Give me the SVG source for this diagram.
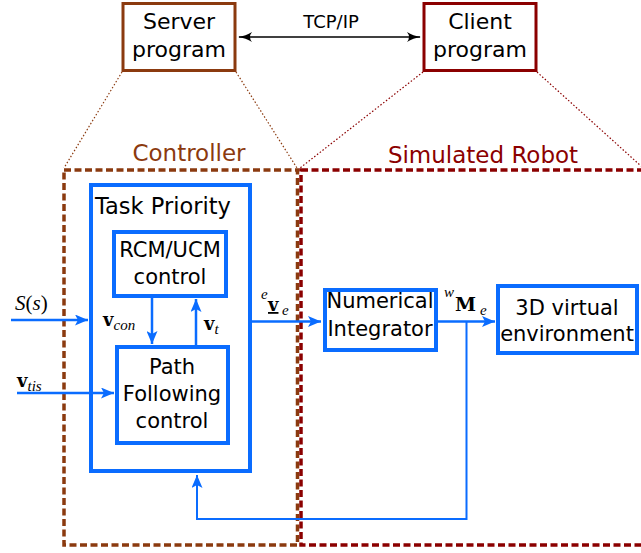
<svg xmlns="http://www.w3.org/2000/svg" width="641" height="553" viewBox="0 0 641 553">
<defs>
<style>
.t{font-family:"DejaVu Sans",Verdana,sans-serif;font-size:21px;fill:#000;text-anchor:middle}
.m{font-family:"Liberation Serif","DejaVu Serif",serif;font-size:20px;fill:#000}
.b{font-family:"DejaVu Serif","Liberation Serif",serif;font-weight:bold;font-style:normal;font-size:18px}
.i{font-style:italic}
.s{font-style:italic;font-size:15px}
.box{fill:#fff;stroke:#0a6cff;stroke-width:4}
.c{fill:none;stroke:#0a6cff;stroke-width:2.5}
.dotb{fill:none;stroke:#8b3a0f;stroke-width:1.2;stroke-dasharray:1.5 2}
.dotr{fill:none;stroke:#8b0000;stroke-width:1.2;stroke-dasharray:1.5 2}
</style>
<marker id="ah" viewBox="0 0 13 11" refX="13" refY="5.5" markerWidth="13" markerHeight="11" markerUnits="userSpaceOnUse" orient="auto">
<path d="M0,0 L13,5.5 L0,11 L3,5.5 Z" fill="#0a6cff"/>
</marker>
<marker id="bk" viewBox="0 0 14 10" refX="13" refY="5" markerWidth="14" markerHeight="10" markerUnits="userSpaceOnUse" orient="auto-start-reverse">
<path d="M0,0 Q6,4 14,5 Q6,6 0,10 Q4,5 0,0 Z" fill="#000"/>
</marker>
</defs>
<rect width="641" height="553" fill="#fff"/>

<g id="projection">
<line class="dotb" x1="122" y1="72" x2="64" y2="168"/>
<line class="dotb" x1="236" y1="72" x2="297" y2="168"/>
<line class="dotr" x1="423" y1="72" x2="300" y2="168"/>
<line class="dotr" x1="537" y1="72" x2="641" y2="166"/>
</g>

<g id="controller">
<rect x="64" y="170" width="233.5" height="375" fill="none" stroke="#8b3a0f" stroke-width="3.5" stroke-dasharray="7 3.5"/>
<text x="189" y="161" class="t" style="font-size:23px;fill:#8b3a0f">Controller</text>
</g>
<g id="simulated-robot">
<rect x="301" y="170" width="345" height="375" fill="none" stroke="#8b0000" stroke-width="3.5" stroke-dasharray="7 3.5"/>
<text x="483" y="163" class="t" style="font-size:23px;fill:#8b0000">Simulated Robot</text>
</g>

<g id="server">
<rect x="123" y="3.5" width="112" height="67" fill="#fff" stroke="#8b3a0f" stroke-width="3"/>
<text x="179" y="29" class="t" style="font-size:22px">Server</text>
<text x="179" y="57" class="t" style="font-size:22px">program</text>
</g>
<g id="client">
<rect x="424" y="3.5" width="112" height="67" fill="#fff" stroke="#8b0000" stroke-width="3"/>
<text x="480" y="29" class="t" style="font-size:22px">Client</text>
<text x="480" y="57" class="t" style="font-size:22px">program</text>
</g>

<g id="task-priority">
<rect x="91" y="185" width="159" height="286" class="box"/>
<text x="95" y="214" class="t" style="text-anchor:start;font-size:22.5px">Task Priority</text>
</g>
<g id="rcm">
<rect x="114" y="232" width="112" height="64" class="box"/>
<text x="170" y="257" class="t">RCM/UCM</text>
<text x="170" y="284" class="t">control</text>
</g>
<g id="path-following">
<rect x="117" y="347" width="111" height="96" class="box"/>
<text x="172" y="374" class="t">Path</text>
<text x="172" y="401" class="t">Following</text>
<text x="172" y="428" class="t">control</text>
</g>
<g id="integrator">
<rect x="325" y="290" width="111" height="60" class="box"/>
<text x="380" y="308" class="t">Numerical</text>
<text x="380" y="336" class="t">Integrator</text>
</g>
<g id="environment">
<rect x="498" y="286" width="139" height="67" class="box"/>
<text x="567" y="315" class="t">3D virtual</text>
<text x="567" y="341" class="t">environment</text>
</g>

<g id="connectors">
<line x1="239" y1="37" x2="420" y2="37" stroke="#000" stroke-width="1.6" marker-start="url(#bk)" marker-end="url(#bk)"/>
<text x="331" y="28" class="t" style="font-size:18px">TCP/IP</text>

<line class="c" x1="11" y1="320" x2="88" y2="320" marker-end="url(#ah)"/>
<line class="c" x1="17" y1="393" x2="114" y2="393" marker-end="url(#ah)"/>
<line class="c" x1="152" y1="298" x2="152" y2="344" marker-end="url(#ah)"/>
<line class="c" x1="196" y1="346" x2="196" y2="299" marker-end="url(#ah)"/>
<line class="c" x1="252" y1="321.5" x2="321" y2="321.5" marker-end="url(#ah)"/>
<line class="c" x1="438" y1="321.5" x2="495" y2="321.5" marker-end="url(#ah)"/>
<polyline class="c" style="stroke-width:2" points="466.5,321.5 466.5,519 197,519 197,475" marker-end="url(#ah)"/>

<text x="15" y="310" class="m" style="font-size:21px"><tspan class="i">S</tspan>(<tspan class="i">s</tspan>)</text>
<text x="103" y="326" class="m"><tspan class="b">v</tspan><tspan class="s" dy="4">con</tspan></text>
<text x="204" y="330" class="m"><tspan class="b">v</tspan><tspan class="s" dy="4">t</tspan></text>
<text x="17" y="387" class="m"><tspan class="b">v</tspan><tspan class="s" dy="4">tis</tspan></text>
<text x="261" y="299" class="m s">e</text>
<text x="268" y="311" class="m b" text-decoration="underline">v</text>
<text x="282" y="315" class="m s">e</text>
<text x="444" y="297" class="m s">w</text>
<text x="455" y="311" class="m b" style="font-size:19px">M</text>
<text x="480" y="315" class="m s">e</text>
</g>
</svg>
